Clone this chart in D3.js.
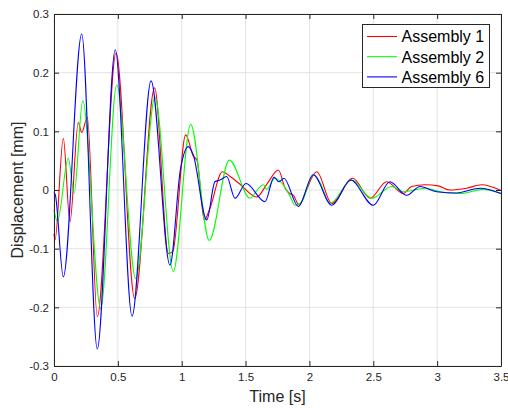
<!DOCTYPE html>
<html><head><meta charset="utf-8">
<script src="https://cdn.jsdelivr.net/npm/d3@7"></script>
<style>body{margin:0;background:#fff}svg{display:block;font-family:"Liberation Sans",Arial,sans-serif}</style>
</head><body><svg id="c" width="508" height="408"></svg>
<script>
const xTicks = [0, 0.5, 1, 1.5, 2, 2.5, 3, 3.5];
const yTicks = [-0.3, -0.2, -0.1, 0, 0.1, 0.2, 0.3];
const seriesNames = ["Assembly 1", "Assembly 2", "Assembly 6"];
const seriesColors = ["#ff0000", "#00ff00", "#0000ff"];

const assembly1 = [[0,-0.075],[0.008,-0.085],[0.073,0.088],[0.125,-0.054],[0.19,0.115],[0.217,0.098],[0.261,0.124],[0.339,-0.216],[0.486,0.234],[0.632,-0.185],[0.788,0.174],[0.895,-0.108],[0.93,-0.105],[1.031,0.094],[1.09,0.058],[1.12,0.05],[1.177,-0.051],[1.22,-0.032],[1.318,0.031],[1.38,0.023],[1.45,0.011],[1.587,-0.012],[1.67,0.011],[1.757,0.034],[1.81,0.003],[1.845,-0.006],[1.87,-0.008],[1.921,-0.026],[1.965,-0.006],[2.057,0.031],[2.175,-0.023],[2.339,0.02],[2.475,-0.014],[2.605,0.014],[2.735,-0.006],[2.80,0.006],[2.905,0.009],[3.01,0.007],[3.10,0.0],[3.23,0.003],[3.35,0.009],[3.5,-0.001]];
const assembly2 = [[0,-0.034],[0.026,-0.054],[0.112,0.054],[0.157,-0.006],[0.225,0.152],[0.366,-0.202],[0.491,0.179],[0.64,-0.151],[0.791,0.158],[0.934,-0.139],[1.07,0.112],[1.216,-0.086],[1.373,0.051],[1.535,-0.014],[1.61,0.005],[1.64,0.009],[1.665,0.001],[1.73,0.02],[1.795,0.009],[1.85,-0.011],[1.887,-0.026],[1.94,-0.02],[2.03,0.026],[2.08,0.014],[2.161,-0.023],[2.331,0.017],[2.488,-0.014],[2.644,0.006],[2.735,-0.003],[2.905,0.003],[3.02,-0.003],[3.18,-0.006],[3.36,0.001],[3.5,-0.006]];
const assembly6 = [[0,-0.004],[0.01,-0.008],[0.073,-0.148],[0.217,0.266],[0.339,-0.271],[0.48,0.239],[0.611,-0.215],[0.76,0.186],[0.908,-0.128],[0.99,0.035],[1.052,0.074],[1.09,0.06],[1.196,-0.051],[1.26,0.014],[1.30,0.017],[1.352,0.023],[1.417,-0.014],[1.503,0.011],[1.652,-0.02],[1.723,0.022],[1.76,0.014],[1.80,0.02],[1.913,-0.028],[2.03,0.026],[2.175,-0.026],[2.323,0.017],[2.50,-0.026],[2.63,0.014],[2.762,-0.009],[2.866,0.006],[2.997,-0.003],[3.153,-0.005],[3.336,0.003],[3.5,-0.006]];
const allSeries = [assembly1, assembly2, assembly6];

const svg = d3.select("#c");
const L = 54, R = 501, T = 14, B = 366;
const x = d3.scaleLinear().domain([0, 3.5]).range([L, R]);
const y = d3.scaleLinear().domain([-0.3, 0.3]).range([B, T]);
const axisColor = "#262626";

// grid
const g = svg.append("g");
g.selectAll(".gx").data(xTicks).enter().append("line")
  .attr("x1", d => x(d)).attr("x2", d => x(d)).attr("y1", T).attr("y2", B)
  .attr("stroke", "#e3e3e3").attr("stroke-width", 1);
g.selectAll(".gy").data(yTicks).enter().append("line")
  .attr("y1", d => y(d)).attr("y2", d => y(d)).attr("x1", L).attr("x2", R)
  .attr("stroke", "#e3e3e3").attr("stroke-width", 1);

// lines
const line = d3.line().x(d => x(d[0])).y(d => y(d[1])).curve(d3.curveMonotoneX);
allSeries.forEach((s, i) => {
  svg.append("path").datum(s).attr("d", line).attr("fill", "none")
    .attr("stroke", seriesColors[i]).attr("stroke-width", 1.1);
});

// axes
function styleAxis(sel) {
  sel.select(".domain").attr("stroke", axisColor).attr("stroke-width", 1);
  sel.selectAll(".tick line").attr("stroke", axisColor);
  sel.selectAll(".tick text").attr("fill", axisColor).attr("font-size", "11.5px")
    .attr("font-family", "'Liberation Sans', Arial, sans-serif");
}
const fmt = d => String(d);
svg.append("g").attr("transform", `translate(0,${B})`)
  .call(d3.axisBottom(x).tickValues(xTicks).tickFormat(fmt).tickSizeInner(-5).tickSizeOuter(0).tickPadding(7))
  .call(styleAxis);
svg.append("g").attr("transform", `translate(0,${T})`)
  .call(d3.axisTop(x).tickValues(xTicks).tickFormat("").tickSizeInner(-5).tickSizeOuter(0))
  .call(styleAxis);
svg.append("g").attr("transform", `translate(${L},0)`)
  .call(d3.axisLeft(y).tickValues(yTicks).tickFormat(fmt).tickSizeInner(-5).tickSizeOuter(0).tickPadding(5))
  .call(styleAxis);
svg.append("g").attr("transform", `translate(${R},0)`)
  .call(d3.axisRight(y).tickValues(yTicks).tickFormat("").tickSizeInner(-5).tickSizeOuter(0))
  .call(styleAxis);

// axis labels
svg.append("text").attr("x", (L + R) / 2).attr("y", 402).attr("text-anchor", "middle")
  .attr("font-size", "16px").attr("fill", axisColor).text("Time [s]");
svg.append("text").attr("transform", `translate(23,${(T + B) / 2}) rotate(-90)`)
  .attr("text-anchor", "middle").attr("font-size", "16px").attr("fill", axisColor).text("Displacement [mm]");

// legend
const lg = svg.append("g");
lg.append("rect").attr("x", 362.5).attr("y", 24.5).attr("width", 127).attr("height", 63)
  .attr("fill", "#fff").attr("stroke", axisColor).attr("stroke-width", 1);
seriesNames.forEach((n, i) => {
  const yy = 36.5 + i * 20.2;
  lg.append("line").attr("x1", 367).attr("x2", 397).attr("y1", yy).attr("y2", yy)
    .attr("stroke", seriesColors[i]).attr("stroke-width", 1.1);
  lg.append("text").attr("x", 401.5).attr("y", yy + 5.8).attr("font-size", "16px")
    .attr("fill", "#000").text(n);
});
</script></body></html>
